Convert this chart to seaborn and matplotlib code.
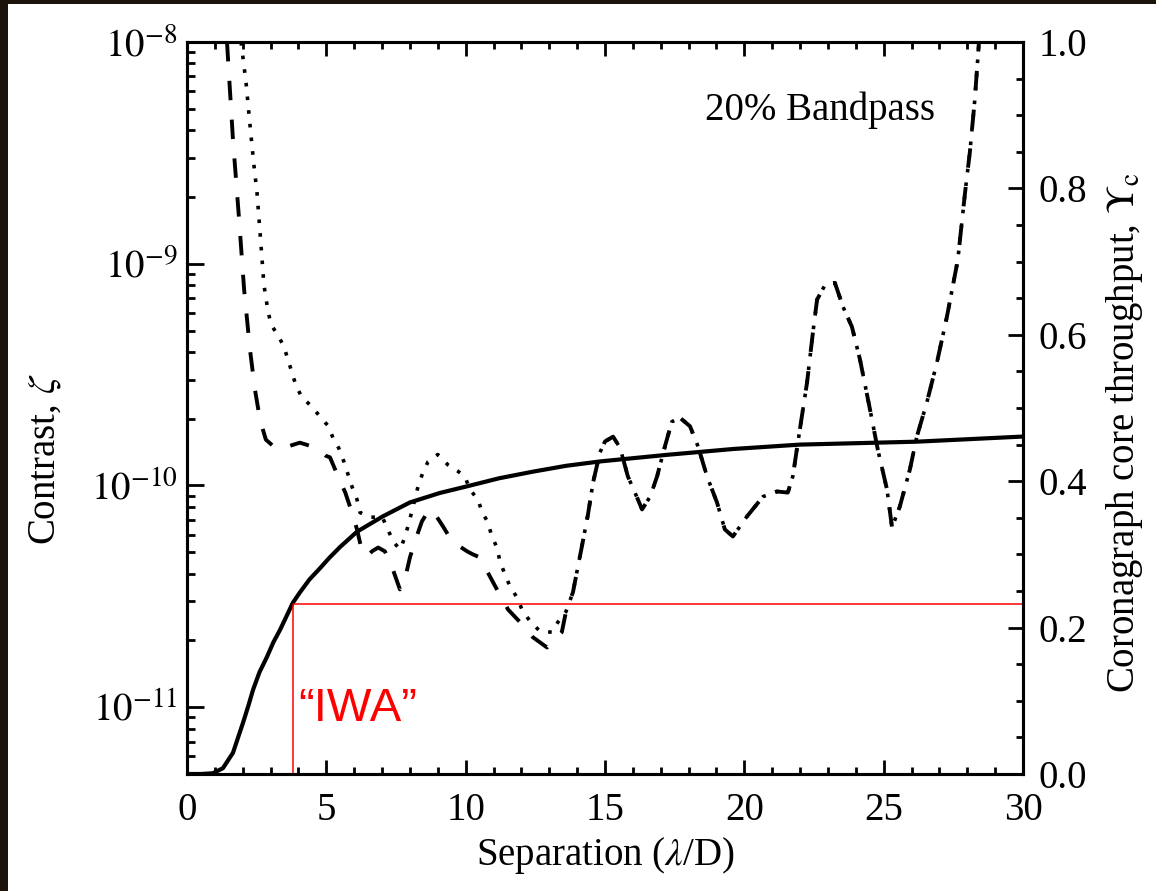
import numpy as np
import pandas as pd
import matplotlib
matplotlib.use("Agg")
import matplotlib.pyplot as plt
import matplotlib.transforms as mtransforms
from matplotlib.patches import Rectangle
from matplotlib.ticker import MultipleLocator, LogLocator, FuncFormatter, NullFormatter, FormatStrFormatter
import seaborn as sns

# ---------------- data ----------------
# dashed contrast curve, separation < ~13.6 lambda/D
sep_dash = [1.435, 1.65, 1.87, 2.05, 2.26, 2.44, 2.62, 2.83, 3.16, 3.62, 4.05, 4.41,
            4.66, 4.84, 4.99, 5.13, 5.42, 5.68, 5.92, 6.10, 6.28, 6.46, 6.64, 6.86,
            7.10, 7.36, 7.64, 7.82, 8.00, 8.18, 8.43, 8.65, 8.79, 9.19, 9.51, 10.05,
            10.26, 10.51, 10.87, 11.16, 11.52, 11.95, 12.41, 12.92, 13.45, 13.60]
con_dash = [1.00e-8, 3.62e-9, 1.58e-9, 7.64e-10, 4.10e-10, 2.70e-10, 1.98e-10, 1.61e-10,
            1.48e-10, 1.50e-10, 1.56e-10, 1.51e-10, 1.44e-10, 1.42e-10, 1.36e-10, 1.34e-10,
            1.10e-10, 9.29e-11, 7.55e-11, 6.34e-11, 5.05e-11, 4.79e-11, 5.05e-11, 5.25e-11,
            5.05e-11, 4.28e-11, 3.40e-11, 3.78e-11, 4.74e-11, 5.60e-11, 6.89e-11, 7.64e-11,
            7.80e-11, 6.53e-11, 5.60e-11, 5.05e-11, 4.89e-11, 4.74e-11, 3.89e-11, 3.33e-11,
            2.76e-11, 2.42e-11, 2.07e-11, 1.86e-11, 2.18e-11, 2.70e-11]

# dotted contrast curve, separation < ~13.6 lambda/D
sep_dot = [1.94, 2.12, 2.26, 2.40, 2.51, 2.62, 2.69, 2.76, 2.91, 3.02, 3.27, 3.48, 3.62,
           3.77, 3.91, 4.13, 4.45, 4.74, 5.06, 5.24, 5.45, 5.63, 5.78, 5.92, 6.10, 6.21,
           6.57, 7.00, 7.21, 7.39, 7.64, 7.82, 8.07, 8.29, 8.47, 8.65, 9.00, 9.36, 9.72,
           9.97, 10.15, 10.44, 10.58, 10.80, 10.94, 11.12, 11.23, 11.41, 11.59, 11.84,
           12.02, 12.31, 12.67, 13.10, 13.31, 13.60]
con_dot = [1.00e-8, 6.53e-9, 4.23e-9, 2.79e-9, 2.11e-9, 1.39e-9, 1.06e-9, 8.04e-10,
           6.08e-10, 5.31e-10, 4.74e-10, 4.23e-10, 3.70e-10, 3.23e-10, 2.82e-10, 2.49e-10,
           2.29e-10, 2.07e-10, 1.86e-10, 1.64e-10, 1.47e-10, 1.28e-10, 1.12e-10, 9.89e-11,
           8.65e-11, 7.55e-11, 7.18e-11, 7.24e-11, 6.34e-11, 5.60e-11, 5.15e-11, 5.83e-11,
           7.64e-11, 9.89e-11, 1.15e-10, 1.28e-10, 1.38e-10, 1.24e-10, 1.16e-10, 1.10e-10,
           9.59e-11, 8.65e-11, 7.64e-11, 6.81e-11, 5.89e-11, 5.26e-11, 4.55e-11, 3.97e-11,
           3.51e-11, 3.13e-11, 2.76e-11, 2.44e-11, 2.20e-11, 2.18e-11, 2.42e-11, 2.70e-11]

# shared part of both contrast curves (they coincide beyond ~13.6 lambda/D)
sep_far = [13.85, 14.03, 14.17, 14.39, 14.57, 14.82, 15.00, 15.29, 15.54, 15.82, 16.15,
           16.33, 16.62, 16.87, 17.15, 17.40, 17.69, 18.05, 18.34, 18.66, 19.02, 19.30,
           19.59, 20.09, 20.67, 21.17, 21.56, 21.74, 21.92, 22.25, 22.46, 22.61, 22.90,
           23.25, 23.54, 23.86, 24.15, 24.51, 24.79, 25.12, 25.30, 25.58, 25.94, 26.19,
           26.55, 26.91, 27.27, 27.66, 27.92, 28.09, 28.27, 28.42]
con_far = [3.30e-11, 4.32e-11, 5.31e-11, 7.41e-11, 1.03e-10, 1.41e-10, 1.58e-10, 1.66e-10,
           1.48e-10, 1.10e-10, 8.83e-11, 7.80e-11, 8.91e-11, 1.10e-10, 1.50e-10, 1.94e-10,
           2.02e-10, 1.85e-10, 1.50e-10, 1.10e-10, 8.38e-11, 6.34e-11, 5.89e-11, 7.24e-11,
           8.91e-11, 9.40e-11, 9.29e-11, 1.10e-10, 1.56e-10, 2.91e-10, 4.89e-10, 6.89e-10,
           8.04e-10, 8.20e-10, 6.40e-10, 5.20e-10, 3.70e-10, 2.20e-10, 1.45e-10, 9.59e-11,
           6.47e-11, 8.04e-11, 1.18e-10, 1.66e-10, 2.37e-10, 3.58e-10, 5.77e-10, 1.04e-9,
           2.09e-9, 3.16e-9, 5.48e-9, 1.00e-8]

# coronagraph core throughput (right axis)
sep_tp = [0.0, 0.5, 0.93, 1.29, 1.65, 2.01, 2.20, 2.37, 2.60, 2.87, 3.10, 3.34, 3.80,
          4.05, 4.40, 4.77, 5.10, 5.49, 6.10, 7.03, 8.00, 9.08, 10.05, 11.2, 12.41,
          13.6, 14.82, 17.22, 19.6, 22.0, 26.19, 30.0]
thru = [0.0, 0.0, 0.001, 0.008, 0.029, 0.070, 0.093, 0.115, 0.139, 0.160, 0.180, 0.197,
        0.234, 0.248, 0.266, 0.281, 0.295, 0.310, 0.331, 0.352, 0.371, 0.384, 0.393,
        0.404, 0.413, 0.421, 0.427, 0.436, 0.444, 0.450, 0.454, 0.461]

# inner working angle marker
iwa_sep = 3.81
iwa_thru = 0.232

x_ticks = [0, 5, 10, 15, 20, 25, 30]
right_ticks = [0.0, 0.2, 0.4, 0.6, 0.8, 1.0]

# ---------------- style ----------------
sns.set_style("ticks")
plt.rcParams["font.family"] = ["Liberation Serif", "DejaVu Serif"]
plt.rcParams["mathtext.fontset"] = "stix"
for key in ["text.color", "axes.labelcolor", "xtick.color", "ytick.color", "axes.edgecolor"]:
    plt.rcParams[key] = "black"

W, H, DPI = 1156, 891, 100
fig = plt.figure(figsize=(W / DPI, H / DPI), dpi=DPI)
fig.patch.set_facecolor("#1c130b")
fig.add_artist(Rectangle((8 / W, 0), 1 - 8 / W, 1 - 4 / H, transform=fig.transFigure,
                         facecolor="white", edgecolor="none", zorder=-10))

L, R, T, B = 187, 1023, 42, 774
ax = fig.add_axes([L / W, 1 - B / H, (R - L) / W, (B - T) / H])
ax.set_facecolor("white")

dash_df = pd.DataFrame({"sep": sep_dash + sep_far, "contrast": con_dash + con_far})
dot_df = pd.DataFrame({"sep": sep_dot + sep_far, "contrast": con_dot + con_far})

sns.lineplot(data=dash_df, x="sep", y="contrast", ax=ax, color="black", lw=2.8,
             linestyle=(0, (5, 5)), estimator=None, sort=False)
sns.lineplot(data=dot_df, x="sep", y="contrast", ax=ax, color="black", lw=2.6,
             linestyle=(0, (1, 2.8)), estimator=None, sort=False)

ax.set_yscale("log")
ax.set_ylim(5e-12, 1e-8)
ax.set_xlim(0, 30)
ax.set_xticks(x_ticks)
ax.xaxis.set_minor_locator(MultipleLocator(1))
ax.yaxis.set_major_locator(LogLocator(base=10, numticks=20))
ax.yaxis.set_minor_locator(LogLocator(base=10, subs=np.arange(2, 10), numticks=50))
ax.yaxis.set_major_formatter(FuncFormatter(lambda v, p: r"$10^{%d}$" % int(round(np.log10(v)))))
ax.yaxis.set_minor_formatter(NullFormatter())

ax.tick_params(axis="both", which="both", direction="in", width=2, labelsize=28,
               colors="black")
ax.tick_params(axis="x", which="major", length=10, pad=13, top=True)
ax.tick_params(axis="x", which="minor", length=5, top=True)
ax.tick_params(axis="y", which="major", length=12, pad=7, right=False)
ax.tick_params(axis="y", which="minor", length=6, right=False)
for s in ax.spines.values():
    s.set_linewidth(2.2)
    s.set_color("black")

ax.set_xlabel(r"Separation ($\lambda$/D)", fontsize=28, color="black")
ax.xaxis.label.set_verticalalignment("center")
ax.xaxis.set_label_coords(0.5, -0.111)
ax.set_ylabel(r"Contrast, $\zeta$", fontsize=28, color="black")
ax.yaxis.label.set_verticalalignment("center")
ax.yaxis.set_label_coords(-0.170, 0.43)

# right axis: throughput
ax2 = ax.twinx()
sns.lineplot(x=sep_tp, y=thru, ax=ax2, color="black", lw=3.0, estimator=None, sort=False)
ax2.hlines(iwa_thru, iwa_sep, 30, color="#ff0000", lw=1.1)
ax2.vlines(iwa_sep, 0, iwa_thru, color="#ff0000", lw=1.1)
ax2.set_ylim(0, 1)
ax2.set_xlim(0, 30)
ax2.set_yticks(right_ticks)
ax2.yaxis.set_major_formatter(FormatStrFormatter("%.1f"))
ax2.yaxis.set_minor_locator(MultipleLocator(0.05))
ax2.tick_params(axis="y", which="both", direction="in", width=2, labelsize=28,
                right=True, left=False, colors="black")
ax2.tick_params(axis="y", which="major", length=11, pad=11)
ax2.tick_params(axis="y", which="minor", length=5)
for s in ax2.spines.values():
    s.set_linewidth(2.2)
    s.set_color("black")
ax2.set_ylabel(r"Coronagraph core throughput, $\Upsilon_\mathrm{c}$", fontsize=28,
               color="black")
ax2.yaxis.label.set_verticalalignment("center")
ax2.yaxis.set_label_coords(1.122, 0.466)

ax.text(0.895, 0.893, "20% Bandpass", transform=ax.transAxes, ha="right", va="baseline",
        fontsize=28, color="black")
trans = mtransforms.blended_transform_factory(ax.transData, ax.transAxes)
ax2.text(3.98, 0.072, "\u201cIWA\u201d", transform=trans, color="#ff0000",
         family=["Liberation Sans", "DejaVu Sans"], fontsize=34, va="baseline", ha="left")

fig.savefig("out.png", dpi=DPI, facecolor=fig.get_facecolor())
